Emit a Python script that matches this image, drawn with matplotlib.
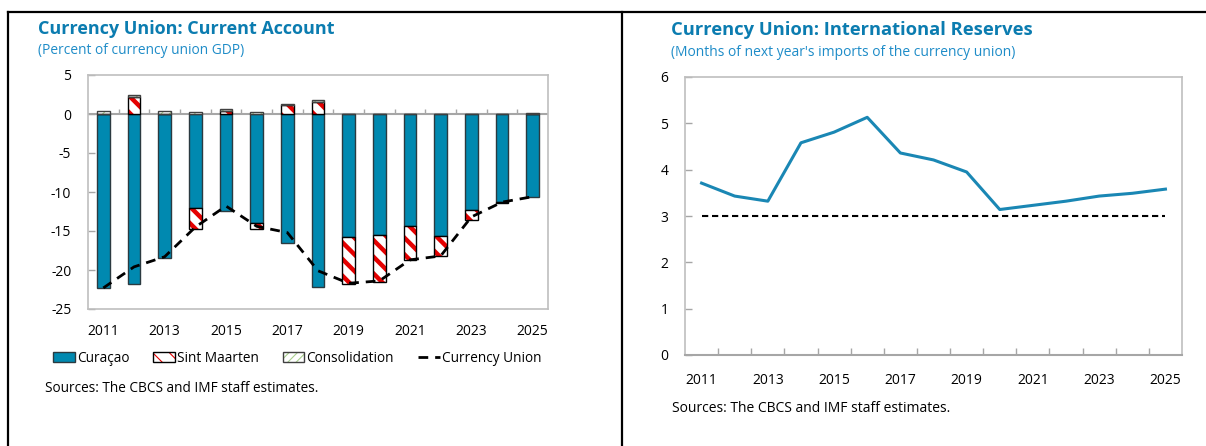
import numpy as np
import matplotlib
matplotlib.use("Agg")
import matplotlib.pyplot as plt
from matplotlib.patches import Patch
from matplotlib.lines import Line2D

plt.rcParams['font.family'] = ['Open Sans', 'DejaVu Sans']
plt.rcParams['axes.unicode_minus'] = False

# ---------------- data ----------------
years = list(range(2011, 2026))
tick_labels = [str(y) if y % 2 == 1 else "" for y in years]

curacao = [-22.3, -21.8, -18.5, -12.1, -12.4, -14.0, -16.6, -22.2, -15.8, -15.5, -14.4, -15.6, -12.3, -11.3, -10.6]
sint_maarten = [0.0, 2.2, 0.0, -2.6, 0.4, -0.7, 1.1, 1.5, -6.0, -6.0, -4.3, -2.6, -1.3, -0.1, 0.0]
consolidation = [0.4, 0.2, 0.4, 0.2, 0.2, 0.2, 0.2, 0.3, 0.0, 0.0, 0.0, 0.0, 0.0, 0.0, 0.1]
currency_union = [-22.3, -19.6, -18.3, -14.5, -11.8, -14.4, -15.2, -20.1, -21.7, -21.4, -18.7, -18.2, -13.2, -11.3, -10.6]

reserves = [3.71, 3.43, 3.32, 4.58, 4.81, 5.13, 4.36, 4.21, 3.95, 3.14, 3.23, 3.32, 3.43, 3.49, 3.58]
benchmark = [3.0] * 15

# ---------------- style ----------------
W, H = 1206, 446
TITLE_C = '#0B7CB0'
SUB_C = '#1E8CC8'
TEAL = '#0089B0'
RED = '#E50000'
GREEN = '#A8D08D'
GRID_C = '#BFBFBF'
LINE_BLUE = '#1A87B4'
TICK_FS = 10.0

fig = plt.figure(figsize=(W / 100, H / 100), dpi=100)


def px_axes(x0, y0, x1, y1):
    return fig.add_axes([x0 / W, 1 - y1 / H, (x1 - x0) / W, (y1 - y0) / H])


def fx(x):
    return x / W


def fy(y):
    return 1 - y / H


def set_hlw(artists, lw):
    for a in artists:
        if hasattr(a, 'set_hatch_linewidth'):
            a.set_hatch_linewidth(lw)


# frame lines
fig.add_artist(Line2D([fx(8), 1.0], [fy(12), fy(12)], color='black', lw=1.6))
fig.add_artist(Line2D([fx(8), fx(8)], [fy(12), 0], color='black', lw=1.6))
fig.add_artist(Line2D([fx(622), fx(622)], [fy(12), 0], color='black', lw=1.6))

# ---------------- left chart ----------------
ax = px_axes(88, 75, 548, 309)
x = np.arange(len(years))
bw = 0.42

cur = np.array(curacao)
sm = np.array(sint_maarten)
con = np.array(consolidation)

cur_bottom = np.zeros_like(cur)
sm_bottom = np.where(sm >= 0, 0.0, cur)
pos_top = np.where(sm >= 0, sm, 0.0)
con_bottom = pos_top

ax.bar(x, cur, bw, bottom=cur_bottom, color=TEAL, edgecolor='#2b3a40', lw=1.0, zorder=3)
plt.rcParams['hatch.linewidth'] = 3.2
b_sm = ax.bar(x, sm, bw, bottom=sm_bottom, color='white', edgecolor=RED, hatch='\\\\', lw=0, zorder=3)
set_hlw(b_sm, 3.2)
ax.bar(x, sm, bw, bottom=sm_bottom, color='none', edgecolor='black', lw=1.0, zorder=4)
plt.rcParams['hatch.linewidth'] = 0.8
b_con = ax.bar(x, con, bw, bottom=con_bottom, color='white', edgecolor=GREEN, hatch='////', lw=0, zorder=3)
set_hlw(b_con, 0.8)
ax.bar(x, con, bw, bottom=con_bottom, color='none', edgecolor='#404040', lw=1.0, zorder=4)

ax.plot(x, currency_union, color='black', lw=2.0, ls=(0, (3.5, 2.5)), zorder=5)

ax.axhline(0, color='#A6A6A6', lw=1.5, zorder=2)
ax.vlines(x[:-1] + 0.5, 0, 0.62, color='#A6A6A6', lw=1.0, zorder=2)

ax.set_xlim(-0.5, len(years) - 0.5)
ax.set_ylim(-25, 5)
ax.set_yticks([5, 0, -5, -10, -15, -20, -25])
ax.set_xticks(x)
ax.set_xticklabels(tick_labels)
ax.tick_params(axis='x', length=0, pad=11, labelsize=TICK_FS, colors='black')
ax.tick_params(axis='y', direction='in', length=5, width=1, color='#A6A6A6', pad=12, labelsize=TICK_FS)
for s in ax.spines.values():
    s.set_color(GRID_C)
    s.set_linewidth(1.2)

fig.text(fx(38), fy(29), 'Currency Union: Current Account', color=TITLE_C, fontsize=13,
         fontweight='bold', va='center', ha='left')
fig.text(fx(38), fy(50), '(Percent of currency union GDP)', color=SUB_C, fontsize=9.9,
         va='center', ha='left')

h_cur = Patch(facecolor=TEAL, edgecolor='#2b3a40', lw=1.0)
p_sm = Patch(facecolor='white', edgecolor=RED, hatch='\\\\', lw=0)
set_hlw([p_sm], 3.2)
h_sm = (p_sm, Patch(facecolor='none', edgecolor='black', lw=1.0))
p_con = Patch(facecolor='white', edgecolor=GREEN, hatch='////', lw=0)
set_hlw([p_con], 0.8)
h_con = (p_con, Patch(facecolor='none', edgecolor='#404040', lw=1.0))
h_cu = Line2D([], [], color='black', lw=2.0, ls=(0, (3.5, 2.5)))
leg = fig.legend([h_cur, h_sm, h_con, h_cu],
                 ['Curaçao', 'Sint Maarten', 'Consolidation', 'Currency Union'],
                 loc='center left', bbox_to_anchor=(fx(53), fy(358)), ncol=4,
                 frameon=False, fontsize=9.8, handlelength=1.6, handleheight=0.7,
                 handletextpad=0.15, columnspacing=1.75, borderpad=0, borderaxespad=0)

fig.text(fx(45), fy(388), 'Sources: The CBCS and IMF staff estimates.', fontsize=9.8,
         va='center', ha='left')

# ---------------- right chart ----------------
ax2 = px_axes(685, 77, 1182, 355)
ax2.plot(x, reserves, color=LINE_BLUE, lw=2.2, zorder=4)
ax2.plot(x, benchmark, color='black', lw=1.5, ls=(0, (3, 1.8)), zorder=3)
ax2.set_xlim(-0.5, len(years) - 0.5)
ax2.set_ylim(0, 6)
ax2.set_yticks(range(0, 7))
ax2.set_xticks(x)
ax2.set_xticklabels(tick_labels)
ax2.set_xticks(x[:-1] + 0.5, minor=True)
ax2.tick_params(axis='x', which='major', length=0, pad=13, labelsize=TICK_FS)
ax2.tick_params(axis='x', which='minor', direction='in', length=5, width=1, color='#A6A6A6')
ax2.tick_params(axis='y', direction='in', length=5, width=1, color='#A6A6A6', pad=12, labelsize=TICK_FS)
for s in ax2.spines.values():
    s.set_color(GRID_C)
    s.set_linewidth(1.2)
ax2.spines['bottom'].set_color('#A6A6A6')
ax2.spines['bottom'].set_linewidth(1.5)

fig.text(fx(671), fy(30), 'Currency Union: International Reserves', color=TITLE_C, fontsize=13.2,
         fontweight='bold', va='center', ha='left')
fig.text(fx(671), fy(52), "(Months of next year's imports of the currency union)", color=SUB_C,
         fontsize=10.0, va='center', ha='left')
fig.text(fx(672), fy(409), 'Sources: The CBCS and IMF staff estimates.', fontsize=10.0,
         va='center', ha='left')

fig.savefig('out.png', dpi=100)
